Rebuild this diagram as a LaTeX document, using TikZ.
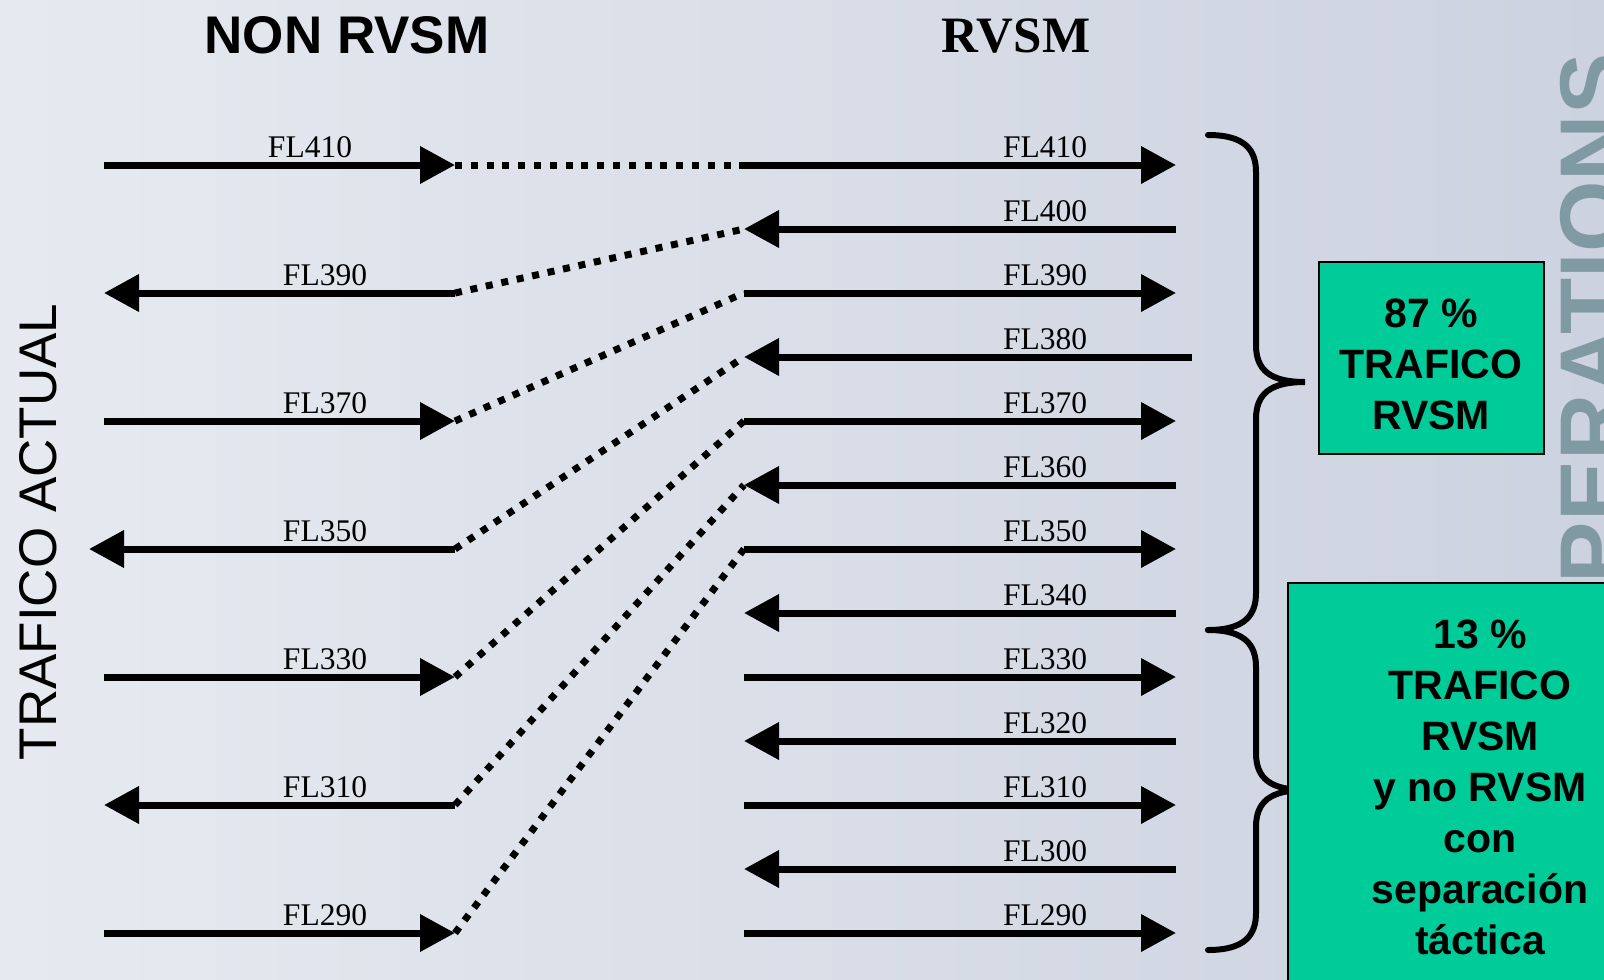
\documentclass[tikz,border=0pt]{standalone}
\usepackage{fontspec}
\setmainfont{Liberation Serif}
\setsansfont{Liberation Sans}
\usepackage{tikz}
\usetikzlibrary{arrows.meta}
\definecolor{bgleft}{RGB}{230,234,240}
\definecolor{bgright}{RGB}{204,210,223}
\definecolor{boxgreen}{RGB}{0,204,153}
\definecolor{markgray}{RGB}{128,154,164}
\tikzset{levelarrow/.style={line width=7pt, -{Triangle[length=35pt,width=36pt]}}}
\tikzset{dotline/.style={line width=7pt, dash pattern=on 7pt off 8.8pt}}
\tikzset{fllabel/.style={anchor=base, inner sep=0pt, font=\fontsize{31.5}{36}\selectfont}}
\tikzset{greenbox/.style={rectangle, draw=black, fill=boxgreen, line width=2pt}}
\tikzset{boxtext/.style={align=center, inner sep=0pt, font=\sffamily\bfseries\fontsize{41}{51}\selectfont}}
\tikzset{bracket/.style={line width=6pt, line cap=round}}

\begin{document}
\begin{tikzpicture}[x=1pt,y=-1pt]

    \useasboundingbox (0,0) rectangle (1604,980);
    \clip (0,0) rectangle (1604,980);
    \shade[left color=bgleft, right color=bgright] (0,0) rectangle (1604,980);

    % watermark
    \node[rotate=90, anchor=base west, inner sep=0pt, text=markgray,
          font=\sffamily\bfseries\fontsize{92}{92}\selectfont] (mark) at (1624,655) {OPERATIONS};

    % titles
    \node[anchor=base, inner sep=0pt, font=\sffamily\bfseries\fontsize{53}{53}\selectfont] (nonrvsm) at (347,53) {NON RVSM};
    \node[anchor=base, inner sep=0pt, font=\bfseries\fontsize{51}{51}\selectfont] (rvsm) at (1016,52) {RVSM};
    \node[rotate=90, anchor=base, inner sep=0pt, font=\sffamily\fontsize{53}{53}\selectfont] (actual) at (56,532) {TRAFICO ACTUAL};

    % non RVSM levels
    \foreach \fl/\y/\xl in {410/165/310, 370/421/325, 330/677/325, 290/933/325} {
        \coordinate (L\fl w) at (104,\y);
        \coordinate (L\fl e) at (455,\y);
        \draw[levelarrow] (L\fl w) -- (L\fl e);
        \node[fllabel] (lab L\fl) at (\xl,\y-8) {FL\fl};
    }
    \foreach \fl/\y/\xw in {390/293/104, 350/549/89, 310/805/104} {
        \coordinate (L\fl w) at (\xw,\y);
        \coordinate (L\fl e) at (455,\y);
        \draw[levelarrow] (L\fl e) -- (L\fl w);
        \node[fllabel] (lab L\fl) at (325,\y-8) {FL\fl};
    }

    % RVSM levels
    \foreach \fl/\y in {410/165, 390/293, 370/421, 350/549, 330/677, 310/805, 290/933} {
        \coordinate (R\fl w) at (744,\y);
        \coordinate (R\fl e) at (1176,\y);
        \draw[levelarrow] (R\fl w) -- (R\fl e);
        \node[fllabel] (lab R\fl) at (1045,\y-8) {FL\fl};
    }
    \foreach \fl/\y/\xe in {400/229/1176, 380/357/1192, 360/485/1176, 340/613/1176, 320/741/1176, 300/869/1176} {
        \coordinate (R\fl w) at (744,\y);
        \coordinate (R\fl e) at (\xe,\y);
        \draw[levelarrow] (R\fl e) -- (R\fl w);
        \node[fllabel] (lab R\fl) at (1045,\y-8) {FL\fl};
    }

    % reassignment
    \foreach \a/\b in {410/410, 390/400, 370/390, 350/380, 330/370, 310/360, 290/350}
        \draw[dotline] (L\a e) -- (R\b w);

    % braces
    \draw[bracket] (1208,135) .. controls (1245,135) and (1256,150) .. (1256,172)
        -- (1256,345) .. controls (1256,370) and (1270,382) .. (1305,382)
        .. controls (1270,382) and (1256,394) .. (1256,419)
        -- (1256,593) .. controls (1256,615) and (1245,630) .. (1208,630);
    \draw[bracket] (1208,630) .. controls (1245,630) and (1256,645) .. (1256,667)
        -- (1256,753) .. controls (1256,778) and (1270,790) .. (1305,790)
        .. controls (1270,790) and (1256,802) .. (1256,827)
        -- (1256,913) .. controls (1256,935) and (1245,950) .. (1208,950);

    % shares
    \node[greenbox, minimum width=225pt, minimum height=192pt] (box1) at (1431,358) {};
    \node[boxtext] (txt1) at (1431,364) {87 \%\\TRAFICO\\RVSM};
    \node[greenbox, anchor=north west, minimum width=420pt, minimum height=420pt] (box2) at (1287,582) {};
    \node[boxtext] (txt2) at (1480,787) {13 \%\\TRAFICO\\RVSM\\y no RVSM\\con\\separación\\táctica};

\end{tikzpicture}
\end{document}
